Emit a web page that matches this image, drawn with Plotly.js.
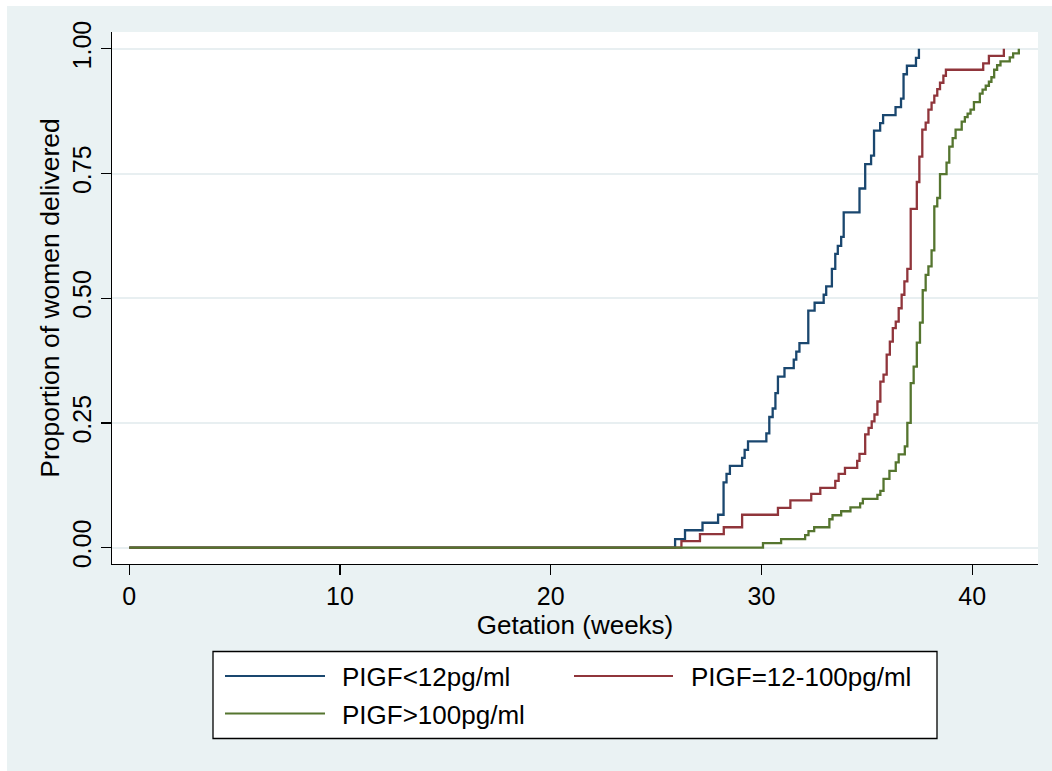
<!DOCTYPE html>
<html>
<head>
<meta charset="utf-8">
<script src="https://cdn.plot.ly/plotly-3.0.1.min.js"></script>
<style>
  html, body { margin: 0; padding: 0; background: #ffffff; }
  #chart { width: 1052px; height: 771px; }
</style>
</head>
<body>
<div id="chart"></div>
<script>
// ---- Data ----
const seriesNames = ["PIGF<12pg/ml", "PIGF=12-100pg/ml", "PIGF>100pg/ml"];

const blueWeeks = [0, 25.9, 26.37, 27.2, 27.94, 28.2, 28.34, 28.5, 29.08, 29.2,
  29.36, 30.23, 30.37, 30.53, 30.66, 30.78, 31.09, 31.53, 31.65, 31.8,
  32.22, 32.52, 32.95, 33.07, 33.34, 33.5, 33.62, 33.78, 33.9, 34.65,
  34.92, 35.2, 35.34, 35.63, 35.77, 36.36, 36.62, 36.74, 36.9, 37.33, 37.47];
const blueProp = [0, 0.017, 0.035, 0.05, 0.066, 0.131, 0.148, 0.164, 0.18, 0.196,
  0.213, 0.229, 0.262, 0.279, 0.31, 0.343, 0.36, 0.377, 0.393, 0.41,
  0.475, 0.491, 0.507, 0.524, 0.559, 0.589, 0.605, 0.623, 0.672, 0.72,
  0.769, 0.786, 0.836, 0.851, 0.867, 0.883, 0.9, 0.949, 0.966, 0.982, 1.0];

const redWeeks = [0, 26.2, 27.08, 28.21, 29.08, 30.78, 31.37, 32.36, 32.79, 33.5,
  33.66, 33.96, 34.54, 34.65, 34.92, 35.08, 35.23, 35.36, 35.5, 35.64,
  35.79, 35.94, 36.09, 36.23, 36.37, 36.51, 36.65, 36.78, 36.92, 37.08,
  37.37, 37.49, 37.63, 37.79, 37.92, 38.07, 38.2, 38.34, 38.47, 38.63,
  38.75, 40.52, 40.79, 41.5];
const redProp = [0, 0.013, 0.027, 0.041, 0.066, 0.08, 0.095, 0.108, 0.12, 0.134,
  0.148, 0.16, 0.174, 0.188, 0.227, 0.24, 0.253, 0.267, 0.293, 0.333,
  0.347, 0.387, 0.413, 0.44, 0.453, 0.48, 0.507, 0.534, 0.559, 0.679,
  0.733, 0.784, 0.838, 0.852, 0.878, 0.892, 0.906, 0.919, 0.932, 0.946,
  0.958, 0.971, 0.986, 1.0];

const greenWeeks = [0, 30.07, 30.93, 32.07, 32.23, 32.5, 33.22, 33.37, 33.78, 34.22,
  34.68, 34.81, 35.5, 35.64, 35.79, 36.07, 36.37, 36.51, 36.8, 36.92,
  37.08, 37.22, 37.37, 37.52, 37.65, 37.79, 37.92, 38.07, 38.2, 38.34,
  38.47, 38.78, 38.91, 39.07, 39.21, 39.5, 39.65, 39.78, 39.92, 40.08,
  40.36, 40.49, 40.64, 40.79, 40.91, 41.04, 41.18, 41.34, 41.78, 41.94, 42.21];
const greenProp = [0, 0.009, 0.017, 0.025, 0.033, 0.041, 0.057, 0.065, 0.073, 0.081,
  0.089, 0.098, 0.106, 0.114, 0.138, 0.154, 0.171, 0.187, 0.203, 0.25,
  0.33, 0.363, 0.411, 0.451, 0.516, 0.547, 0.564, 0.596, 0.684, 0.701,
  0.749, 0.772, 0.804, 0.821, 0.838, 0.854, 0.863, 0.87, 0.878, 0.893,
  0.91, 0.918, 0.926, 0.934, 0.943, 0.958, 0.967, 0.975, 0.983, 0.991, 1.0];

const xTickVals = [0, 10, 20, 30, 40];
const yTickVals = [0, 0.25, 0.5, 0.75, 1];
const yTickText = ["0.00", "0.25", "0.50", "0.75", "1.00"];
const xTitle = "Getation (weeks)";
const yTitle = "Proportion of women delivered";

// ---- Styling ----
const colors = ["#1a476f", "#90353b", "#55752f"];
const FONT = "Liberation Sans, Arial, Helvetica, sans-serif";
const W = 1052, H = 771;
const M = { l: 112, r: 14, t: 32, b: 207 };
const PW = W - M.l - M.r, PH = H - M.t - M.b;
const px2x = (px) => (px - M.l) / PW;
const py2y = (py) => (H - M.b - py) / PH;

const xs = [blueWeeks, redWeeks, greenWeeks];
const ys = [blueProp, redProp, greenProp];
const traces = xs.map((x, i) => ({
  type: "scatter",
  mode: "lines",
  x: x,
  y: ys[i],
  name: seriesNames[i],
  line: { color: colors[i], width: 2.3, shape: "hv" },
  showlegend: false,
  hoverinfo: "x+y+name"
}));

// Manual legend (Stata-style box with long line samples)
const legendBox = { x0: 213, x1: 937, y0: 651.5, y1: 738.5 };
const legendItems = [
  { lx0: 225, lx1: 325, ly: 676, tx: 340 },
  { lx0: 574, lx1: 673, ly: 676, tx: 689 },
  { lx0: 225, lx1: 325, ly: 713.5, tx: 340 }
];

const shapes = [
  // white strips at top and left edge of the picture
  { type: "rect", xref: "paper", yref: "paper", layer: "below",
    x0: px2x(0), x1: px2x(W), y0: py2y(6), y1: py2y(-2),
    fillcolor: "#ffffff", line: { width: 0 } },
  { type: "rect", xref: "paper", yref: "paper", layer: "below",
    x0: px2x(-2), x1: px2x(7), y0: py2y(H + 2), y1: py2y(-2),
    fillcolor: "#ffffff", line: { width: 0 } },
  // legend box
  { type: "rect", xref: "paper", yref: "paper",
    x0: px2x(legendBox.x0), x1: px2x(legendBox.x1),
    y0: py2y(legendBox.y1), y1: py2y(legendBox.y0),
    fillcolor: "#ffffff", line: { color: "#000000", width: 1.3 } }
];
const annotations = [];
legendItems.forEach((it, i) => {
  shapes.push({ type: "line", xref: "paper", yref: "paper",
    x0: px2x(it.lx0), x1: px2x(it.lx1), y0: py2y(it.ly), y1: py2y(it.ly),
    line: { color: colors[i], width: 2 } });
  annotations.push({ xref: "paper", yref: "paper",
    x: px2x(it.tx), y: py2y(it.ly + 1), xanchor: "left", yanchor: "middle",
    text: seriesNames[i], showarrow: false,
    font: { family: FONT, size: 26, color: "#000000" } });
});

const layout = {
  width: W, height: H,
  margin: M,
  paper_bgcolor: "#eaf2f3",
  plot_bgcolor: "#ffffff",
  showlegend: false,
  font: { family: FONT, size: 25, color: "#000000" },
  xaxis: {
    range: [-0.82, 43.12],
    tickvals: xTickVals,
    ticks: "outside", ticklen: 10, tickwidth: 1.3, tickcolor: "#000000",
    showline: true, linecolor: "#000000", linewidth: 1.3,
    showgrid: false, zeroline: false,
    tickfont: { family: FONT, size: 25, color: "#000000" },
    title: { text: xTitle, font: { family: FONT, size: 26, color: "#000000" }, standoff: 6 }
  },
  yaxis: {
    range: [-0.0327, 1.0337],
    tickvals: yTickVals, ticktext: yTickText, tickangle: -90,
    ticks: "outside", ticklen: 10, tickwidth: 1.3, tickcolor: "#000000",
    showline: true, linecolor: "#000000", linewidth: 1.3,
    showgrid: true, gridcolor: "#e8eff1", gridwidth: 2,
    zeroline: false,
    tickfont: { family: FONT, size: 25, color: "#000000" },
    title: { text: yTitle, font: { family: FONT, size: 26.5, color: "#000000" }, standoff: 0 }
  },
  shapes: shapes,
  annotations: annotations
};

Plotly.newPlot("chart", traces, layout, { displayModeBar: false, staticPlot: true });
</script>
</body>
</html>
